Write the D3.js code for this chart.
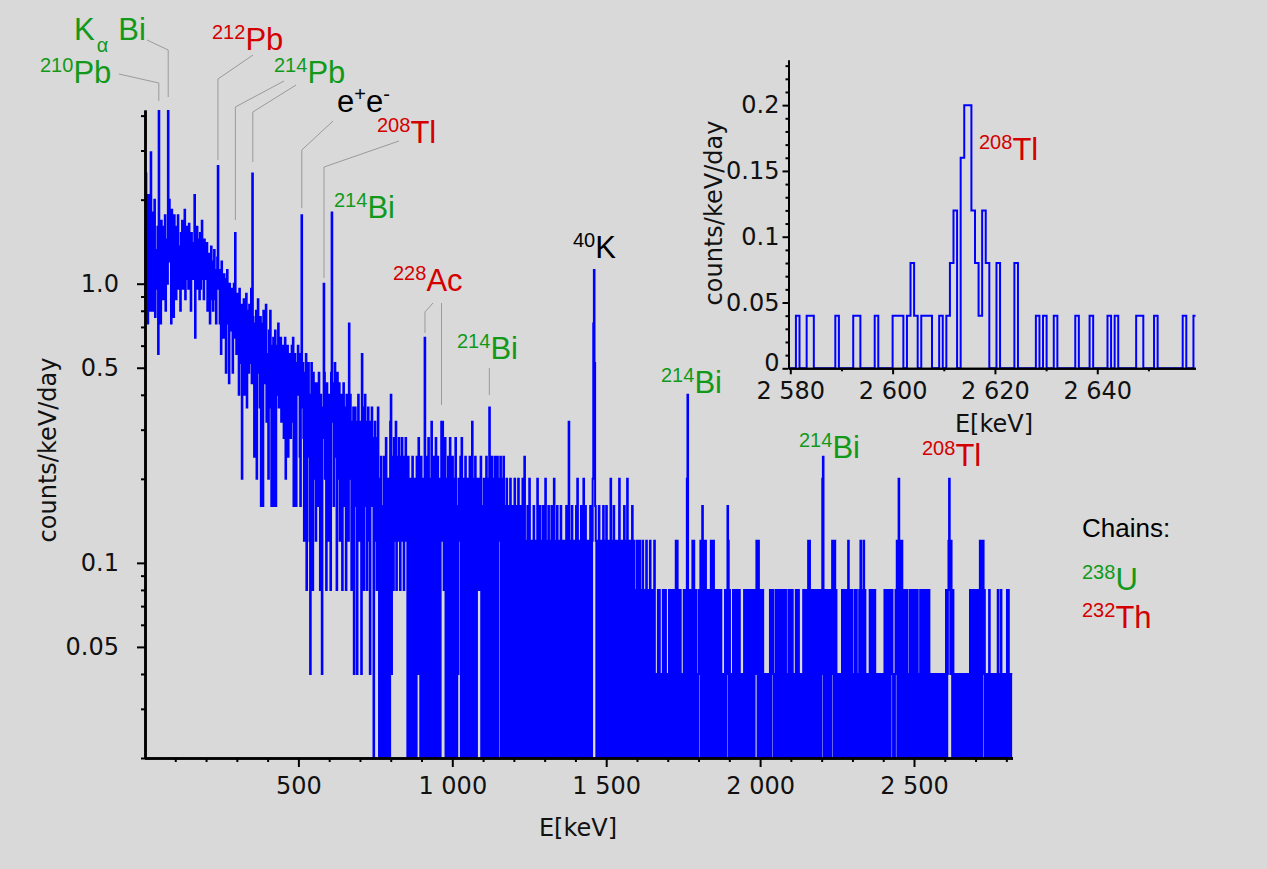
<!DOCTYPE html>
<html>
<head>
<meta charset="utf-8">
<title>Gamma spectrum</title>
<script src="https://cdn.jsdelivr.net/npm/d3@7"></script>
<style>
  body { margin: 0; background: #d9d9d9; }
  svg { display: block; }
</style>
</head>
<body>
<div id="spectrum"></div>
<script>
// Low energy part: counts per 2 keV bin, 0 - 760 keV (one row = 20 keV)
const lowCounts = [
  40, 22, 62, 28, 48, 18, 52, 24, 36, 20,
  74, 30, 45, 20, 38, 26, 50, 19, 33, 28,
  24, 40, 14, 110, 30, 36, 18, 42, 28, 34,
  22, 40, 26, 44, 20, 36, 30, 25, 110, 46,
  50, 30, 42, 18, 46, 32, 38, 19, 44, 28,
  40, 22, 36, 28, 44, 24, 34, 30, 20, 38,
  30, 42, 24, 36, 28, 46, 22, 32, 40, 26,
  36, 24, 41, 28, 33, 20, 38, 30, 26, 35,
  28, 52, 16, 34, 26, 40, 24, 30, 36, 22,
  38, 24, 33, 42, 26, 30, 22, 36, 28, 34,
  26, 35, 20, 30, 24, 32, 18, 28, 34, 22,
  30, 20, 26, 33, 22, 28, 18, 24, 31, 66,
  24, 28, 18, 26, 14, 30, 22, 25, 16, 27,
  20, 26, 12, 24, 28, 18, 22, 11, 25, 19,
  22, 17, 24, 12, 20, 25, 16, 38, 21, 14,
  23, 15, 20, 10, 24, 18, 13, 21, 5, 19,
  16, 22, 10, 19, 14, 23, 9, 18, 20, 12,
  21, 13, 17, 24, 11, 62, 19, 15, 6, 18,
  14, 20, 5, 17, 22, 12, 16, 9, 19, 4,
  15, 18, 4, 20, 11, 16, 13, 21, 8, 14,
  12, 5, 17, 14, 20, 9, 4, 15, 11, 16,
  4, 13, 17, 4, 15, 10, 12, 18, 9, 14,
  11, 16, 8, 14, 10, 15, 7, 13, 16, 5,
  12, 9, 15, 6, 13, 10, 14, 7, 11, 15,
  8, 16, 4, 12, 14, 9, 4, 13, 10, 15,
  11, 14, 6, 4, 12, 44, 9, 13, 7, 3,
  12, 8, 14, 2, 11, 6, 13, 9, 3, 1,
  10, 13, 7, 2, 12, 9, 5, 11, 3, 8,
  11, 4, 9, 12, 6, 2, 10, 8, 1, 7,
  9, 25, 12, 5, 8, 2, 11, 6, 9, 3,
  10, 7, 2, 12, 45, 8, 11, 4, 9, 13,
  6, 10, 2, 12, 8, 5, 11, 3, 9, 7,
  10, 2, 8, 11, 4, 7, 9, 2, 10, 6,
  9, 3, 18, 7, 10, 5, 2, 8, 6, 9,
  1, 7, 9, 4, 8, 1, 6, 10, 3, 7,
  5, 8, 1, 14, 6, 9, 2, 7, 10, 4,
  8, 2, 6, 9, 3, 7, 1, 8, 5, 9,
  4, 7, 0, 6, 8, 3, 7, 2, 5, 9
];

// 760 - 2820 keV: one base-36 digit per 2 keV bin, one string per 100 keV
const highCounts = [
  "3052604206 3074105308 a146273582 6437526473 5264735062",
  "2053064205 3064175306 20530g4063 0725048036 0527046035",
  "0583862470 5306207403 6052073041 5346072053 0640350260",
  "4380530620 5342536042 0530460250 9604603506 2046035460",
  "5036024053 0420530410 3502430520 4103502603 1042051030",
  "3041032051 0340230410 3502304103 0420350130 4203104303",
  "3032041038 0310420310 3405203104 2035014032 031042035i",
  "sd43023041 0320340130 4203103502 3041032031 0520310324",
  "0310520310 2340130210 3102301203 1021032012 0310210230",
  "1010202101 0120212010 1021202021 2023032021 2010102021",
  "05a2021202 3032021010 2123024032 0302120202 3021302021",
  "2021202101 0102021430 2101012021 2021202101 0101202120",
  "1202120202 0212310320 2120210101 0101012021 2101021202",
  "0212021202 1201012021 2021010120 2120101010 2021202032",
  "3021012021 2021202102 1560212021 2021202312 0302101010",
  "1012021202 1203120202 1010202101 0203120230 2101010120",
  "2101202101 1010100101 0120212021 2021210101 2130253021",
  "3021202120 1012021202 1202120101 2021202120 2120210101",
  "0101001010 0101100101 0120123531 3202101001 0100110101",
  "0101100101 0212021202 1202120323 0231201010 1020101010",
  "1010102101 0201010110 1202101011"
];

// inset around the 2614 keV line: counts per 0.7 keV bin from 2579.7 keV
const insetCounts = "0010011000 0001000011 0000100001 1101210111 0010123045 " +
                    "5321320020 0002000001 0100100000 1000100001 0100000110 0010000000 1001";

const binWidth = 2;        // keV, main spectrum
const perCount = 0.04;     // counts/keV/day for one count
const insetStart = 2579.7;
const insetBin = 0.7;

const xMajor = [500, 1000, 1500, 2000, 2500];
const yMajor = [0.05, 0.1, 0.5, 1.0];
const yMinor = [0.02, 0.03, 0.04, 0.06, 0.07, 0.08, 0.09, 0.2, 0.3, 0.4, 0.6, 0.7, 0.8, 0.9, 2, 3, 4];
const insetXMajor = [2580, 2600, 2620, 2640];
const insetXMinor = [2590, 2610, 2630, 2650];
const insetYMajor = [0, 0.05, 0.1, 0.15, 0.2];

const GREEN = "#12991a", RED = "#d40000";

// peak labels (sup = mass number), placed by hand like in the original figure
const labelLayout = [
  {sup: "210", sym: "Pb", color: GREEN, x: 40, y: 83},
  {sup: "212", sym: "Pb", color: RED, x: 212, y: 50},
  {sup: "214", sym: "Pb", color: GREEN, x: 274, y: 83},
  {sup: "208", sym: "Tl", color: RED, x: 377, y: 143},
  {sup: "214", sym: "Bi", color: GREEN, x: 334, y: 218},
  {sup: "228", sym: "Ac", color: RED, x: 393, y: 291},
  {sup: "214", sym: "Bi", color: GREEN, x: 457, y: 359},
  {sup: "40", sym: "K", color: "#000", x: 573, y: 258},
  {sup: "214", sym: "Bi", color: GREEN, x: 661, y: 393},
  {sup: "214", sym: "Bi", color: GREEN, x: 799, y: 458},
  {sup: "208", sym: "Tl", color: RED, x: 922, y: 466},
  {sup: "208", sym: "Tl", color: RED, x: 979, y: 160},
  {sup: "238", sym: "U", color: GREEN, x: 1082, y: 590},
  {sup: "232", sym: "Th", color: RED, x: 1082, y: 628}
];

// leader lines: vertical at the peak energy, then a kink towards the label
const leaders = [
  {e: 46.5, y0: 101, y1: 83, x2: 119, y2: 74},
  {e: 77, y0: 97, y1: 50, x2: 147, y2: 40},
  {e: 238.6, y0: 160, y1: 79, x2: 253, y2: 55},
  {e: 295.2, y0: 220, y1: 107, x2: 284, y2: 81},
  {e: 351.9, y0: 162, y1: 112, x2: 296, y2: 85},
  {e: 511, y0: 208, y1: 150, x2: 333, y2: 121},
  {e: 583.2, y0: 278, y1: 167, x2: 399, y2: 141},
  {e: 911.2, y0: 333, y1: 312, x2: 433, y2: 303},
  {e: 965, y0: 405, y1: 303},
  {e: 1120.3, y0: 395, y1: 368}
];

class SpectrumVis {

    constructor(parentElement) {
        this.parentElement = parentElement;
        this.initVis();
    }

    initVis() {
        let vis = this;
        vis.width = 1267;
        vis.height = 869;

        vis.svg = d3.select('#' + vis.parentElement)
            .append('svg')
            .attr('width', vis.width)
            .attr('height', vis.height);

        vis.svg.append('rect')
            .attr('width', vis.width)
            .attr('height', vis.height)
            .attr('fill', '#d9d9d9');

        // main plot
        vis.x = d3.scaleLinear().domain([0, 2820]).range([144.5, 1012.5]);
        vis.y = d3.scaleLog().domain([0.02, 4.19]).range([758, 110]);

        // inset
        vis.ix = d3.scaleLinear().domain([2579.65, 2659.2]).range([788.5, 1195.5]);
        vis.iy = d3.scaleLinear().domain([0, 0.2343]).range([368.3, 60]);

        let defs = vis.svg.append('defs');
        defs.append('clipPath').attr('id', 'clipMain')
            .append('rect')
            .attr('x', vis.x.range()[0]).attr('y', 110)
            .attr('width', vis.x.range()[1] - vis.x.range()[0]).attr('height', 648);
        defs.append('clipPath').attr('id', 'clipInset')
            .append('rect')
            .attr('x', 788.5).attr('y', 55)
            .attr('width', 407).attr('height', 320);

        vis.wrangleData();
    }

    wrangleData() {
        let vis = this;

        let high = highCounts.join('').replace(/\s/g, '').split('').map(c => parseInt(c, 36));
        let counts = lowCounts.concat(high);

        vis.mainData = counts.map((c, i) => ({e: i * binWidth, v: c * perCount}));
        vis.mainData.push({e: counts.length * binWidth, v: vis.mainData[vis.mainData.length - 1].v});

        let ic = insetCounts.replace(/\s/g, '').split('').map(c => +c);
        vis.insetData = ic.map((c, i) => ({e: insetStart + i * insetBin, v: c * perCount}));
        vis.insetData.push({e: insetStart + ic.length * insetBin, v: vis.insetData[vis.insetData.length - 1].v});

        vis.updateVis();
    }

    updateVis() {
        let vis = this;
        const axisFont = '"DejaVu Sans", sans-serif';
        const lblFont = '"Liberation Sans", Arial, sans-serif';

        // spectrum, empty bins drop below the axis
        let line = d3.line()
            .x(d => vis.x(d.e))
            .y(d => d.v > 0 ? vis.y(d.v) : 790)
            .curve(d3.curveStepAfter);

        vis.svg.append('path')
            .datum(vis.mainData)
            .attr('clip-path', 'url(#clipMain)')
            .attr('d', line)
            .attr('fill', 'none')
            .attr('stroke', '#0000ff')
            .attr('stroke-width', 2);

        let iline = d3.line()
            .x(d => vis.ix(d.e))
            .y(d => vis.iy(d.v))
            .curve(d3.curveStepAfter);

        vis.svg.append('path')
            .datum(vis.insetData)
            .attr('clip-path', 'url(#clipInset)')
            .attr('d', iline)
            .attr('fill', 'none')
            .attr('stroke', '#0000ff')
            .attr('stroke-width', 2);

        let spaced = d3.formatLocale({decimal: '.', thousands: ' ', grouping: [3], currency: ['', '']}).format(',');

        function style(g, w) {
            g.select('.domain').attr('stroke', '#000').attr('stroke-width', w);
            g.selectAll('.tick line').attr('stroke', '#000').attr('stroke-width', 2);
            g.selectAll('text').attr('font-family', axisFont).attr('font-size', 24).attr('fill', '#111');
        }

        // main axes
        let xMinor = d3.range(100, 2820, 100).filter(v => v % 500 !== 0);
        vis.svg.append('g').attr('transform', 'translate(0,758)')
            .call(d3.axisBottom(vis.x).tickValues(xMinor).tickSize(4).tickSizeOuter(0).tickFormat(''))
            .call(g => style(g, 2.5));
        vis.svg.append('g').attr('transform', 'translate(0,758)')
            .call(d3.axisBottom(vis.x).tickValues(xMajor).tickSize(9).tickPadding(10).tickSizeOuter(0).tickFormat(spaced))
            .call(g => style(g, 2.5));

        vis.svg.append('g').attr('transform', 'translate(145,0)')
            .call(d3.axisLeft(vis.y).tickValues(yMinor).tickSize(4).tickSizeOuter(0).tickFormat(''))
            .call(g => style(g, 2.5));
        vis.svg.append('g').attr('transform', 'translate(145,0)')
            .call(d3.axisLeft(vis.y).tickValues(yMajor).tickSize(8).tickPadding(18).tickSizeOuter(0)
                .tickFormat(d => d === 1 ? '1.0' : String(d)))
            .call(g => style(g, 2.5));

        vis.svg.append('text')
            .attr('transform', 'translate(56,450) rotate(-90)')
            .attr('text-anchor', 'middle')
            .attr('font-family', axisFont).attr('font-size', 24).attr('fill', '#111')
            .text('counts/keV/day');
        vis.svg.append('text')
            .attr('x', 578).attr('y', 836)
            .attr('text-anchor', 'middle')
            .attr('font-family', axisFont).attr('font-size', 24).attr('fill', '#111')
            .text('E[keV]');

        // inset axes
        let iyMinor = d3.range(1, 24).map(v => v / 100).filter(v => Math.round(v * 100) % 5 !== 0);
        vis.svg.append('g').attr('transform', 'translate(0,368.3)')
            .call(d3.axisBottom(vis.ix).tickValues(insetXMinor).tickSize(3).tickSizeOuter(0).tickFormat(''))
            .call(g => style(g, 2));
        vis.svg.append('g').attr('transform', 'translate(0,368.3)')
            .call(d3.axisBottom(vis.ix).tickValues(insetXMajor).tickSize(6).tickPadding(8).tickSizeOuter(0).tickFormat(spaced))
            .call(g => style(g, 2));
        vis.svg.append('g').attr('transform', 'translate(788.5,0)')
            .call(d3.axisLeft(vis.iy).tickValues(iyMinor).tickSize(3).tickSizeOuter(0).tickFormat(''))
            .call(g => style(g, 2));
        vis.svg.append('g').attr('transform', 'translate(788.5,0)')
            .call(d3.axisLeft(vis.iy).tickValues(insetYMajor).tickSize(6).tickPadding(3).tickSizeOuter(0)
                .tickFormat(d => String(d)))
            .call(g => style(g, 2))
            .call(g => g.selectAll('.tick').filter(d => d === 0).select('text').attr('dy', '0.1em'));

        vis.svg.append('text')
            .attr('transform', 'translate(722,213) rotate(-90)')
            .attr('text-anchor', 'middle')
            .attr('font-family', axisFont).attr('font-size', 24).attr('fill', '#111')
            .text('counts/keV/day');
        vis.svg.append('text')
            .attr('x', 994).attr('y', 432)
            .attr('text-anchor', 'middle')
            .attr('font-family', axisFont).attr('font-size', 24).attr('fill', '#111')
            .text('E[keV]');

        // leader lines
        vis.svg.selectAll('.leader')
            .data(leaders)
            .join('path')
            .attr('class', 'leader')
            .attr('d', d => {
                let px = vis.x(d.e);
                let p = `M${px},${d.y0}L${px},${d.y1}`;
                if (d.x2 !== undefined) p += `L${d.x2},${d.y2}`;
                return p;
            })
            .attr('fill', 'none')
            .attr('stroke', '#9a9a9a')
            .attr('stroke-width', 1);

        // isotope labels
        let labels = vis.svg.selectAll('.iso')
            .data(labelLayout)
            .join('text')
            .attr('class', 'iso')
            .attr('x', d => d.x)
            .attr('y', d => d.y)
            .attr('fill', d => d.color)
            .attr('font-family', lblFont);
        labels.append('tspan').attr('font-size', 20).attr('dy', -11).text(d => d.sup);
        labels.append('tspan').attr('font-size', 31).attr('dy', 11).text(d => d.sym);

        // K-alpha Bi
        let ka = vis.svg.append('text')
            .attr('x', 74).attr('y', 40)
            .attr('fill', GREEN).attr('font-family', lblFont);
        ka.append('tspan').attr('font-size', 31).text('K');
        ka.append('tspan').attr('font-size', 20).attr('dx', 2).attr('dy', 12).text('\u03b1');
        ka.append('tspan').attr('font-size', 31).attr('dx', 10).attr('dy', -12).text('Bi');

        // annihilation line
        let ee = vis.svg.append('text')
            .attr('x', 337).attr('y', 112)
            .attr('fill', '#000').attr('font-family', lblFont);
        ee.append('tspan').attr('font-size', 31).text('e');
        ee.append('tspan').attr('font-size', 20).attr('dy', -11).text('+');
        ee.append('tspan').attr('font-size', 31).attr('dy', 11).text('e');
        ee.append('tspan').attr('font-size', 20).attr('dy', -11).text('-');

        vis.svg.append('text')
            .attr('x', 1082).attr('y', 537)
            .attr('fill', '#000').attr('font-family', lblFont).attr('font-size', 26)
            .text('Chains:');
    }
}

new SpectrumVis('spectrum');
</script>
</body>
</html>
